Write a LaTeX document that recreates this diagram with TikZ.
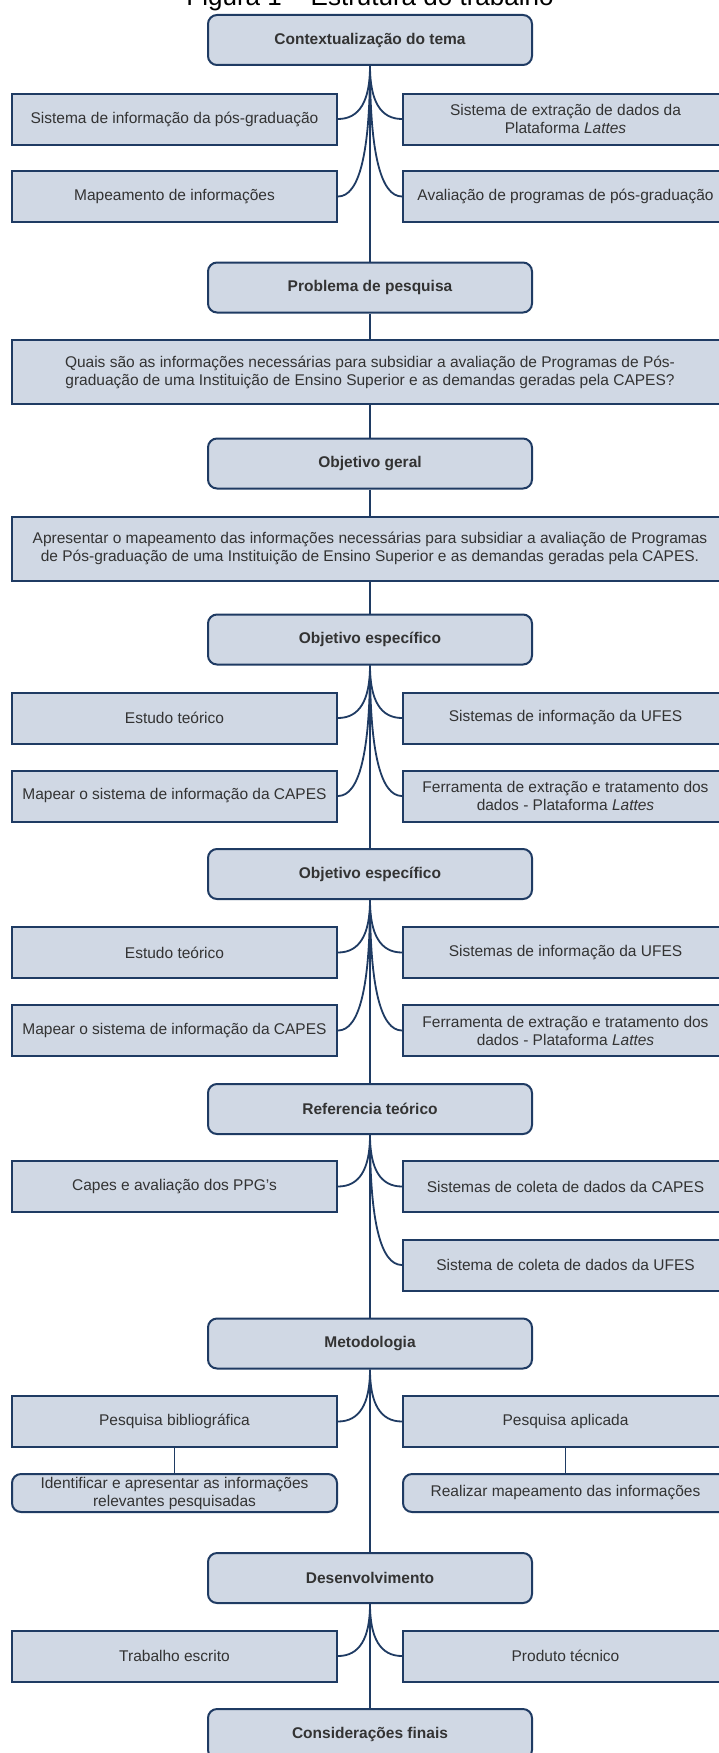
\documentclass[tikz,border=0pt]{standalone}
\usepackage{fontspec}
\setmainfont{Liberation Sans}
\usetikzlibrary{calc}
\definecolor{boxfill}{HTML}{D0D8E4}
\definecolor{boxline}{HTML}{1F3B63}
\definecolor{txt}{HTML}{333333}
\tikzset{
  mainbox/.style={draw=boxline, fill=boxfill, line width=2pt, rounded corners=9pt,
    minimum width=324pt, minimum height=50pt, inner sep=0pt,
    font=\fontsize{15.5}{18}\selectfont\bfseries, text=txt},
  sidebox/.style={draw=boxline, fill=boxfill, line width=2pt,
    minimum width=325pt, minimum height=51pt, inner sep=0pt,
    font=\fontsize{15.5}{18}\selectfont, text=txt, align=center},
  subbox/.style={sidebox, rounded corners=9pt, minimum height=38pt},
  widebox/.style={sidebox, minimum width=716pt, minimum height=64pt},
  conn/.style={draw=boxline, line width=1.8pt},
  titletext/.style={font=\fontsize{26}{30}\selectfont, anchor=base, inner sep=0pt}
}
\newcommand{\qbranch}[3]{%
  \coordinate (qc) at (#1.south |- #2.#3);
  \draw[conn] (#1.south) .. controls ($(#1.south)!0.6667!(qc)$) and ($(#2.#3)!0.6667!(qc)$) .. (#2.#3);}
\begin{document}
\begin{tikzpicture}[x=1pt,y=-1pt]
\fill[white] (0,0) rectangle (718,1753);
\useasboundingbox (0,0) rectangle (718,1753);

\node[titletext] (title) at (370,6) {Figura 1 – Estrutura do trabalho};

\node[mainbox] (A) at (370,40) {Contextualização do tema};
\node[sidebox] (L1) at (174.5,119) {Sistema de informação da pós-graduação};
\node[sidebox] (R1) at (565.5,119) {Sistema de extração de dados da\\Plataforma \textit{Lattes}};
\node[sidebox] (L2) at (174.5,196.5) {Mapeamento de informações};
\node[sidebox] (R2) at (565.5,196.5) {Avaliação de programas de pós-graduação};

\node[mainbox] (B) at (370,287.5) {Problema de pesquisa};
\node[widebox] (Q) at (370,372) {Quais são as informações necessárias para subsidiar a avaliação de Programas de Pós-\\graduação de uma Instituição de Ensino Superior e as demandas geradas pela CAPES?};

\node[mainbox] (C) at (370,463.5) {Objetivo geral};
\node[widebox] (P) at (370,548.5) {Apresentar o mapeamento das informações necessárias para subsidiar a avaliação de Programas\\de Pós-graduação de uma Instituição de Ensino Superior e as demandas geradas pela CAPES.};

\node[mainbox] (D) at (370,639.5) {Objetivo específico};
\node[sidebox] (D1) at (174.5,718) {Estudo teórico};
\node[sidebox] (D2) at (565.5,718) {Sistemas de informação da UFES};
\node[sidebox] (D3) at (174.5,796) {Mapear o sistema de informação da CAPES};
\node[sidebox] (D4) at (565.5,796) {Ferramenta de extração e tratamento dos\\dados - Plataforma \textit{Lattes}};

\node[mainbox] (E) at (370,874) {Objetivo específico};
\node[sidebox] (E1) at (174.5,952.5) {Estudo teórico};
\node[sidebox] (E2) at (565.5,952.5) {Sistemas de informação da UFES};
\node[sidebox] (E3) at (174.5,1030.5) {Mapear o sistema de informação da CAPES};
\node[sidebox] (E4) at (565.5,1030.5) {Ferramenta de extração e tratamento dos\\dados - Plataforma \textit{Lattes}};

\node[mainbox] (F) at (370,1109) {Referencia teórico};
\node[sidebox] (F1) at (174.5,1186.5) {Capes e avaliação dos PPG's};
\node[sidebox] (F2) at (565.5,1186.5) {Sistemas de coleta de dados da CAPES};
\node[sidebox] (F3) at (565.5,1265) {Sistema de coleta de dados da UFES};

\node[mainbox] (G) at (370,1343.5) {Metodologia};
\node[sidebox] (G1) at (174.5,1421.5) {Pesquisa bibliográfica};
\node[sidebox] (G2) at (565.5,1421.5) {Pesquisa aplicada};
\node[subbox] (G3) at (174.5,1493) {Identificar e apresentar as informações\\relevantes pesquisadas};
\node[subbox] (G4) at (565.5,1493) {Realizar mapeamento das informações};

\node[mainbox] (H) at (370,1578) {Desenvolvimento};
\node[sidebox] (H1) at (174.5,1656) {Trabalho escrito};
\node[sidebox] (H2) at (565.5,1656) {Produto técnico};

\node[mainbox] (I) at (370,1734) {Considerações finais};

% connectors
\qbranch{A}{L1}{east} \qbranch{A}{R1}{west} \qbranch{A}{L2}{east} \qbranch{A}{R2}{west}
\draw[conn] (A.south) -- (B.north);
\draw[conn] (B.south) -- (Q.north);
\draw[conn] (Q.south) -- (C.north);
\draw[conn] (C.south) -- (P.north);
\draw[conn] (P.south) -- (D.north);
\qbranch{D}{D1}{east} \qbranch{D}{D2}{west} \qbranch{D}{D3}{east} \qbranch{D}{D4}{west}
\draw[conn] (D.south) -- (E.north);
\qbranch{E}{E1}{east} \qbranch{E}{E2}{west} \qbranch{E}{E3}{east} \qbranch{E}{E4}{west}
\draw[conn] (E.south) -- (F.north);
\qbranch{F}{F1}{east} \qbranch{F}{F2}{west} \qbranch{F}{F3}{west}
\draw[conn] (F.south) -- (G.north);
\qbranch{G}{G1}{east} \qbranch{G}{G2}{west}
\draw[conn] (G1.south) -- (G3.north);
\draw[conn] (G2.south) -- (G4.north);
\draw[conn] (G.south) -- (H.north);
\qbranch{H}{H1}{east} \qbranch{H}{H2}{west}
\draw[conn] (H.south) -- (I.north);
\end{tikzpicture}
\end{document}
